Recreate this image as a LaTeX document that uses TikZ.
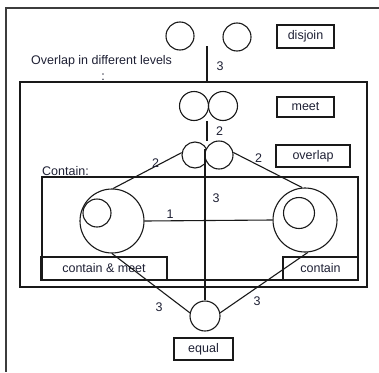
\documentclass[tikz,border=0pt]{standalone}
\usepackage{fontspec}
\setmainfont{Liberation Sans}
\definecolor{txt}{RGB}{30,32,52}
\definecolor{ln}{RGB}{25,25,25}
\definecolor{edge}{RGB}{60,60,60}
\begin{document}
\begin{tikzpicture}[x=1pt,y=-1pt,
  every node/.style={font=\fontsize{12.5}{14}\selectfont, text=txt},
  ring/.style={draw=ln, line width=1.1pt, circle, inner sep=0pt, minimum size=#1},
  tag/.style={draw=ln, line width=1.4pt, inner sep=0pt, minimum width=#1, minimum height=22},
  region/.style={draw=ln, line width=1.3pt, inner sep=0pt},
  link/.style={draw=ln, line width=1.1pt},
  num/.style={inner sep=0pt}]
\useasboundingbox (0,0) rectangle (379,372);
% outer frame (top and left edges)
\draw[edge, line width=2pt] (379,8) -- (6,8) -- (6,372);

% grouping boxes
\node[region, minimum width=347, minimum height=205] (lvl) at (193.5,184.5) {};
\node[region, minimum width=316, minimum height=103] (cbox) at (200,228.5) {};

% titles
\node[anchor=west, inner sep=0pt] (lvltitle) at (31,61) {Overlap in different levels};
\node[inner sep=0pt] (colon) at (103,77) {:};
\node[anchor=west, inner sep=0pt] (ctitle) at (42,171) {Contain:};

% disjoin
\node[ring=28] (d1) at (180,36) {};
\node[ring=28] (d2) at (237,37) {};
\node[tag=57, minimum height=23] (tdis) at (305.5,36.5) {disjoin};

% meet
\node[ring=29] (m1) at (194,106) {};
\node[ring=29] (m2) at (223,106) {};
\node[tag=57, minimum height=20] (tmeet) at (305.5,107) {meet};

% overlap
\node[ring=26] (o1) at (195,155) {};
\node[ring=28, fill=white] (o2) at (219,155) {};
\node[tag=74] (tov) at (313,156) {overlap};

% contain & meet / contain
\node[tag=126, minimum height=23] (tcm) at (104,268.5) {contain \& meet};
\node[tag=75, minimum height=23] (tcon) at (320.5,268.5) {contain};

% equal
\node[tag=59] (teq) at (203.5,349) {equal};

% connectors
\coordinate (dtop) at (207,46);
\draw[link] (dtop) -- (dtop |- lvl.north);
\coordinate (mbot) at (207,121);
\draw[link] (mbot) -- (mbot |- o1.north);
\coordinate (otop) at (205,149);
\node[ring=30] (eq) at (205,316) {};
\draw[link] (otop) -- (otop |- eq.north);

\node[ring=64] (cl) at (112,221) {};
\node[ring=28] (cli) at (97,213) {};
\node[ring=64] (cr) at (305,220) {};
\node[ring=31] (cri) at (299,213) {};

\draw[link] (o1.170) -- (cl.88);
\draw[link] (o2.10) -- (cr.95);
\draw[link] (cl.east) -- (cr.west);
\draw[link] (cl.270) -- (eq.168);
\draw[link] (cr.275) -- (eq.12);

% edge weights
\node[num] (w1) at (220,66) {3};
\node[num] (w2) at (219.5,131.5) {2};
\node[num] (w3) at (155.5,163) {2};
\node[num] (w4) at (258.5,158) {2};
\node[num] (w5) at (216,198.5) {3};
\node[num] (w6) at (170,214) {1};
\node[num] (w7) at (159,307) {3};
\node[num] (w8) at (257,301.5) {3};
\end{tikzpicture}
\end{document}
